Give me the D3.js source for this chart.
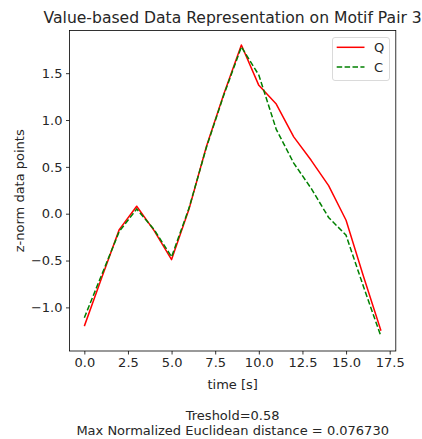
<!DOCTYPE html>
<html><head><meta charset="utf-8">
<script src="https://cdn.jsdelivr.net/npm/d3@7"></script>
<style>body{margin:0;background:#fff;} svg{display:block;font-family:"DejaVu Sans",sans-serif;}</style>
</head><body>
<svg id="c" width="422" height="439"></svg>
<script>
const timeSteps = [0,1,2,3,4,5,6,7,8,9,10,11,12,13,14,15,16,17];
const seriesQ = [-1.20,-0.68,-0.17,0.08,-0.18,-0.49,0.05,0.72,1.28,1.80,1.37,1.17,0.82,0.57,0.30,-0.07,-0.67,-1.25];
const seriesC = [-1.11,-0.65,-0.19,0.05,-0.17,-0.46,0.06,0.71,1.27,1.78,1.48,0.90,0.54,0.27,-0.04,-0.23,-0.78,-1.31];
const xTicks = [0,2.5,5,7.5,10,12.5,15,17.5];
const yTicks = [-1.0,-0.5,0.0,0.5,1.0,1.5];
const seriesNames = ["Q","C"];
const titleText = "Value-based Data Representation on Motif Pair 3";
const xLabel = "time [s]";
const yLabel = "z-norm data points";
const footer = ["Treshold=0.58","Max Normalized Euclidean distance = 0.076730"];

const svg = d3.select("#c");
const L = 69.5, R = 395.8, T = 30.5, B = 351;
const xmin = d3.min(timeSteps), xmax = d3.max(timeSteps);
const allY = seriesQ.concat(seriesC);
const ymin = d3.min(allY), ymax = d3.max(allY);
const xp = (xmax - xmin) * 0.05, yp = (ymax - ymin) * 0.05;
const x = d3.scaleLinear().domain([xmin - xp, xmax + xp]).range([L, R]);
const y = d3.scaleLinear().domain([ymin - yp, ymax + yp]).range([B, T]);

const fs = 13;
// axes
const gx = svg.append("g").attr("transform", `translate(0,${B})`)
  .call(d3.axisBottom(x).tickValues(xTicks).tickFormat(d3.format(".1f")).tickSize(3.5).tickPadding(3.5));
const gy = svg.append("g").attr("transform", `translate(${L},0)`)
  .call(d3.axisLeft(y).tickValues(yTicks).tickFormat(d => d3.format(".1f")(d).replace("-", "\u2212")).tickSize(3.5).tickPadding(3.5));
[gx, gy].forEach(g => {
  g.select(".domain").remove();
  g.selectAll("line").attr("stroke", "#000").attr("stroke-width", 0.8);
  g.selectAll("text").attr("fill", "#262626").style("font-size", fs + "px").style("font-family", "DejaVu Sans");
});

const line = d3.line().x((d, i) => x(timeSteps[i])).y(d => y(d));
svg.append("path").datum(seriesQ).attr("d", line).attr("fill", "none")
  .attr("stroke", "#ff0000").attr("stroke-width", 1.5).attr("stroke-linejoin", "round");
svg.append("path").datum(seriesC).attr("d", line).attr("fill", "none")
  .attr("stroke", "#008000").attr("stroke-width", 1.5).attr("stroke-dasharray", "5.5,2.4");

// frame
svg.append("rect").attr("x", L).attr("y", T).attr("width", R - L).attr("height", B - T)
  .attr("fill", "none").attr("stroke", "#000").attr("stroke-width", 0.8);

// legend
const lg = svg.append("g");
lg.append("rect").attr("x", 332.5).attr("y", 37.5).attr("width", 57).attr("height", 43).attr("rx", 2.5)
  .attr("fill", "#fff").attr("fill-opacity", 0.8).attr("stroke", "#d0d0d0").attr("stroke-width", 0.8);
const styles = [{c:"#ff0000", d:null},{c:"#008000", d:"5.5,2.4"}];
seriesNames.forEach((n, i) => {
  const yy = 47.3 + i * 19.7;
  const l = lg.append("line").attr("x1", 336.7).attr("x2", 364.5).attr("y1", yy).attr("y2", yy)
    .attr("stroke", styles[i].c).attr("stroke-width", 1.5);
  if (styles[i].d) l.attr("stroke-dasharray", styles[i].d);
  lg.append("text").attr("x", 374).attr("y", yy).attr("dy", "0.35em").text(n)
    .attr("fill", "#262626").style("font-size", fs + "px");
});

// titles
const cx = (L + R) / 2;
svg.append("text").attr("x", cx).attr("y", 17.5).attr("dy", "0.35em").attr("text-anchor", "middle")
  .style("font-size", "15.6px").attr("fill", "#262626").text(titleText);
svg.append("text").attr("x", cx).attr("y", 384.3).attr("dy", "0.35em").attr("text-anchor", "middle")
  .style("font-size", fs + "px").attr("fill", "#262626").text(xLabel);
svg.append("text").attr("transform", `translate(19,${(T + B) / 2}) rotate(-90)`).attr("dy", "0.35em")
  .attr("text-anchor", "middle").style("font-size", fs + "px").attr("fill", "#262626").text(yLabel);
footer.forEach((t, i) => {
  svg.append("text").attr("x", cx).attr("y", 415.7 + i * 14.3).attr("dy", "0.35em").attr("text-anchor", "middle")
    .style("font-size", fs + "px").attr("fill", "#262626").text(t);
});
</script>
</body></html>
